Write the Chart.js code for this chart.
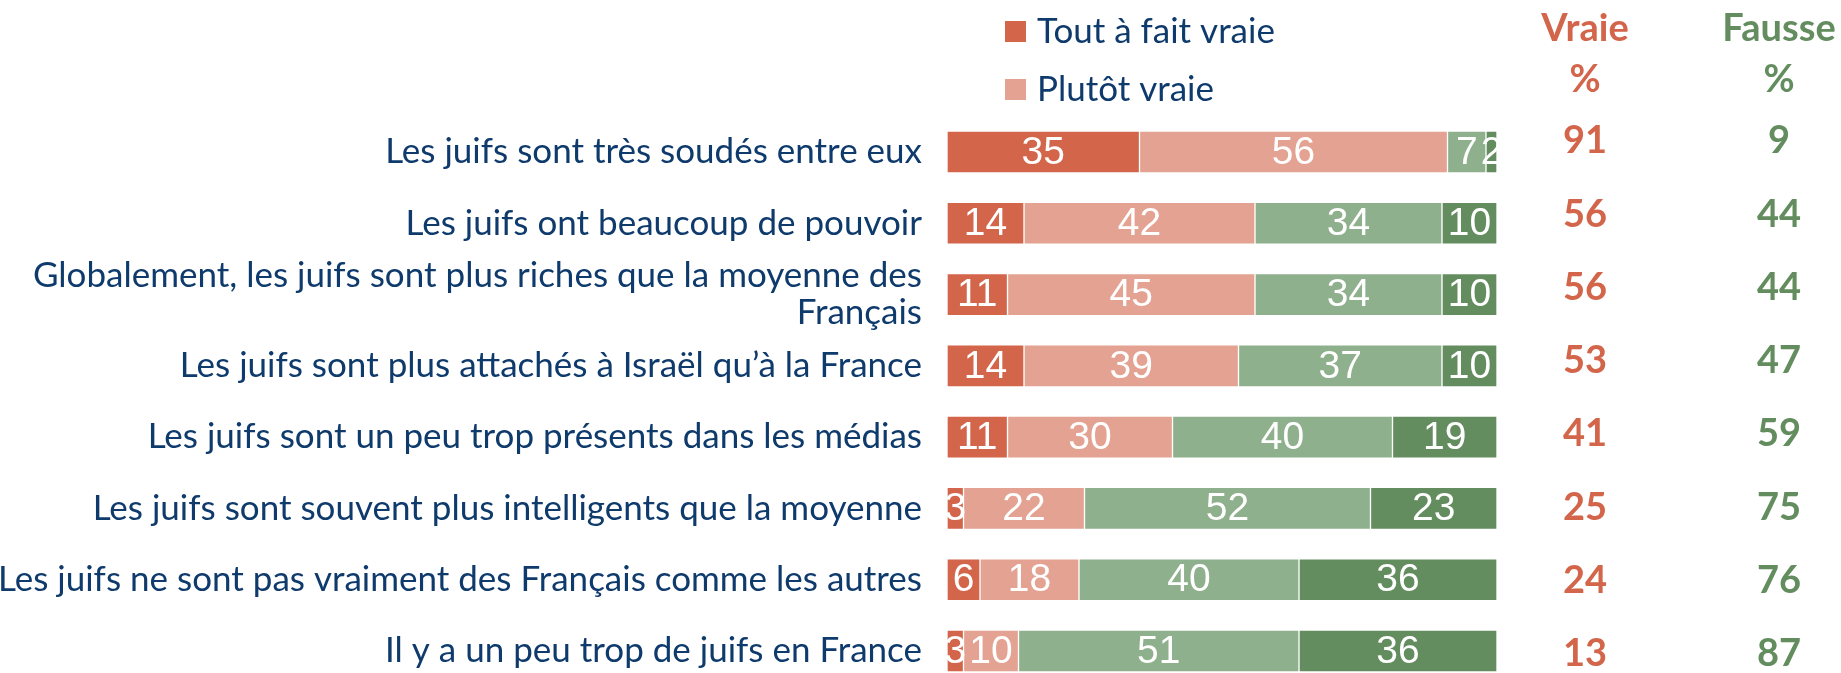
<!DOCTYPE html>
<html>
<head>
<meta charset="utf-8">
<script src="https://cdn.jsdelivr.net/npm/chart.js@4"></script>
<style>
  html, body { margin: 0; padding: 0; background: #fff; overflow: hidden; }
  #wrap { width: 1841px; height: 673px; position: relative; }
</style>
</head>
<body>
<div id="wrap"><canvas id="c"></canvas></div>
<script>
// ---- data ----
const categories = [
  "Les juifs sont très soudés entre eux",
  "Les juifs ont beaucoup de pouvoir",
  ["Globalement, les juifs sont plus riches que la moyenne des", "Français"],
  "Les juifs sont plus attachés à Israël qu’à la France",
  "Les juifs sont un peu trop présents dans les médias",
  "Les juifs sont souvent plus intelligents que la moyenne",
  "Les juifs ne sont pas vraiment des Français comme les autres",
  "Il y a un peu trop de juifs en France"
];
const toutVraie    = [35, 14, 11, 14, 11, 3, 6, 3];
const plutotVraie  = [56, 42, 45, 39, 30, 22, 18, 10];
const plutotFausse = [7, 34, 34, 37, 40, 52, 40, 51];
const toutFausse   = [2, 10, 10, 10, 19, 23, 36, 36];
const vraiePct  = [91, 56, 56, 53, 41, 25, 24, 13];
const faussePct = [9, 44, 44, 47, 59, 75, 76, 87];
const seriesNames = ["Tout à fait vraie", "Plutôt vraie", "Plutôt fausse", "Tout à fait fausse"];

// ---- styles ----
const RED = "#D2654A", PINK = "#E3A292", LGREEN = "#8FB08C", DGREEN = "#638D5F";
const NAVY = "#0E3A6C";

const barLabels = {
  id: "barLabels",
  afterDatasetsDraw(chart) {
    const ctx = chart.ctx, area = chart.chartArea;
    ctx.save();
    ctx.beginPath();
    ctx.rect(area.left, 0, area.right - area.left, chart.height);
    ctx.clip();
    ctx.fillStyle = "#fff";
    ctx.font = "39px 'Liberation Sans', Arial, sans-serif";
    ctx.textAlign = "center";
    ctx.textBaseline = "middle";
    chart.data.datasets.forEach((ds, di) => {
      const meta = chart.getDatasetMeta(di);
      meta.data.forEach((el, i) => {
        const cx = (el.x + el.base) / 2;
        ctx.fillText(String(ds.data[i]), cx, el.y + 1);
      });
    });
    ctx.restore();
  }
};

const sideTable = {
  id: "sideTable",
  afterDraw(chart) {
    const ctx = chart.ctx, ys = chart.scales.y;
    const xV = 1585, xF = 1779;
    ctx.save();
    ctx.textAlign = "center";
    ctx.textBaseline = "alphabetic";
    ctx.font = "bold 38px Lato, sans-serif";
    ctx.fillStyle = RED;  ctx.fillText("Vraie", xV, 41);
    ctx.fillStyle = DGREEN; ctx.fillText("Fausse", xF, 41);
    ctx.fillStyle = RED;  ctx.fillText("%", xV, 92);
    ctx.fillStyle = DGREEN; ctx.fillText("%", xF, 92);
    ctx.textBaseline = "middle";
    const top = ys.getPixelForValue(0);
    vraiePct.forEach((v, i) => {
      const p = ys.getPixelForValue(i);
      const y = top + (p - top) * 1.028 - 11;
      ctx.fillStyle = RED;  ctx.fillText(String(v), xV, y);
      ctx.fillStyle = DGREEN; ctx.fillText(String(faussePct[i]), xF, y);
    });
    ctx.restore();
  }
};

const topLegend = {
  id: "topLegend",
  afterDraw(chart) {
    const ctx = chart.ctx;
    ctx.save();
    ctx.font = "35px Lato, sans-serif";
    ctx.textAlign = "left";
    ctx.textBaseline = "middle";
    [0, 1].forEach((di, k) => {
      const ds = chart.data.datasets[di];
      const cy = 31 + k * 58;
      ctx.fillStyle = ds.backgroundColor;
      ctx.fillRect(1005, cy - 10, 21, 21);
      ctx.fillStyle = NAVY;
      ctx.fillText(ds.label, 1037, cy + 1);
    });
    ctx.restore();
  }
};

const colors = [RED, PINK, LGREEN, DGREEN];
const values = [toutVraie, plutotVraie, plutotFausse, toutFausse];

new Chart(document.getElementById("c"), {
  type: "bar",
  data: {
    labels: categories,
    datasets: values.map((vals, i) => ({
      label: seriesNames[i],
      data: vals,
      backgroundColor: colors[i],
      borderColor: "rgba(255,255,255,0.45)",
      borderWidth: 1,
      borderSkipped: false,
      barThickness: 42,
      clip: false
    }))
  },
  options: {
    indexAxis: "y",
    responsive: true,
    maintainAspectRatio: false,
    animation: false,
    layout: { padding: { left: 0, right: 344, top: 152, bottom: 22 } },
    plugins: { legend: { display: false }, tooltip: { enabled: false } },
    scales: {
      x: { stacked: true, display: false, min: 0, max: 100 },
      y: {
        stacked: true,
        offset: false,
        grid: { display: false, drawTicks: false },
        border: { display: false },
        ticks: {
          color: NAVY,
          padding: 25,
          autoSkip: false,
          font: { family: "Lato", size: 35, lineHeight: 1.05 }
        },
        afterFit(scale) {
          scale.width = 947;
          scale.paddingTop = 0;
          scale.paddingBottom = 0;
        }
      }
    }
  },
  plugins: [barLabels, sideTable, topLegend]
});
</script>
</body>
</html>
